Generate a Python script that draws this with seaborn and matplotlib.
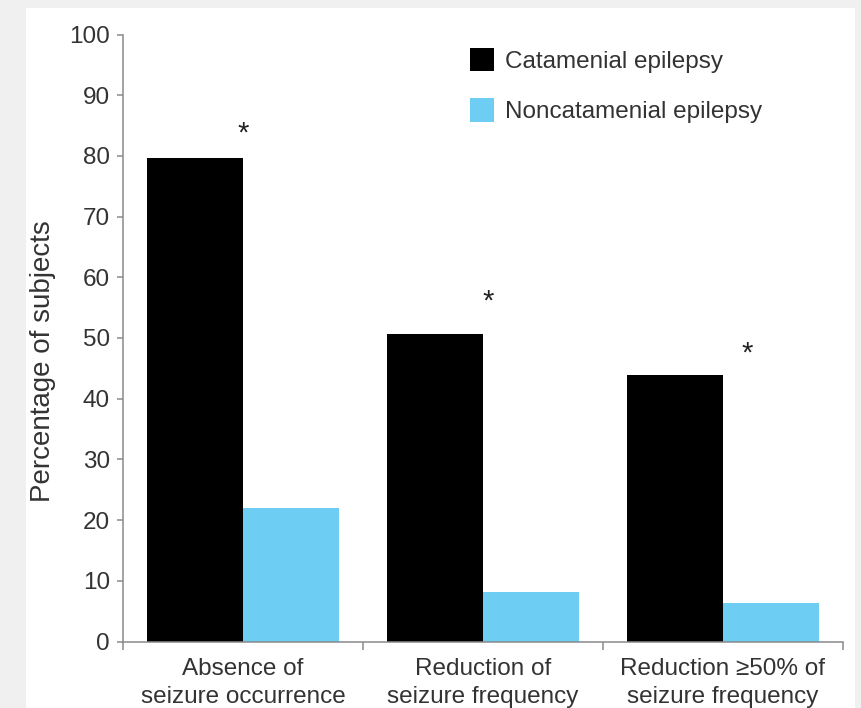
import matplotlib
matplotlib.use("Agg")
import matplotlib.pyplot as plt
from matplotlib.patches import Rectangle
import seaborn as sns
import pandas as pd

categories = ["Absence of\nseizure occurrence", "Reduction of\nseizure frequency",
              "Reduction \u226550% of\nseizure frequency"]
groups = ["Catamenial epilepsy", "Noncatamenial epilepsy"]
catamenial = [79.6, 50.7, 43.9]
noncatamenial = [22.0, 8.2, 6.3]
yticks = [0, 10, 20, 30, 40, 50, 60, 70, 80, 90, 100]
# significance markers (annotation): offset above the catamenial bar
star_dx = [0.0, 0.02, 0.10]
star_dy = [4.0, 5.3, 3.6]

df = pd.DataFrame({
    "category": categories * 2,
    "group": [groups[0]] * 3 + [groups[1]] * 3,
    "value": catamenial + noncatamenial,
})

sns.set_theme(style="white")
plt.rcParams["font.family"] = ["Liberation Sans", "DejaVu Sans"]

W, H = 861, 708
fig = plt.figure(figsize=(W / 100, H / 100), dpi=100, facecolor="#f0f0f0")
fig.patches.append(Rectangle((26 / W, 0), (855 - 26) / W, 1 - 8 / H,
                             transform=fig.transFigure, facecolor="white",
                             edgecolor="none", zorder=-10))
ax = fig.add_axes([123 / W, 1 - 641.5 / H, (843 - 123) / W, (641.5 - 34.5) / H])
ax.set_zorder(5)
ax.set_facecolor("none")

palette = {groups[0]: "#000000", groups[1]: "#6dcdf2"}
sns.barplot(data=df, x="category", y="value", hue="group", order=categories,
            hue_order=groups, palette=palette, width=0.8, gap=0,
            linewidth=0, saturation=1, ax=ax, legend=True)

ax.set_xlim(-0.5, 2.5)
ax.set_ylim(0, 100)
ax.set_yticks(yticks)
ax.set_xlabel("")
ax.set_ylabel("Percentage of subjects", fontsize=20, color="#333333")
ax.yaxis.set_label_coords(-0.093, 0.462)

spine_c = "#8a8a8a"
for s in ["top", "right"]:
    ax.spines[s].set_visible(False)
for s in ["left", "bottom"]:
    ax.spines[s].set_color(spine_c)
    ax.spines[s].set_linewidth(1.1)

ax.tick_params(axis="y", which="major", length=4.5, width=1.1, color=spine_c,
               labelsize=17.5, labelcolor="#333333", pad=5, left=True)
ax.tick_params(axis="x", which="major", length=0, labelsize=17.5,
               labelcolor="#333333", pad=12, bottom=True)
for lab in ax.get_xticklabels():
    lab.set_linespacing(1.35)
ax.set_xticks([-0.5, 0.5, 1.5, 2.5], minor=True)
ax.tick_params(axis="x", which="minor", length=5.5, width=1.1, color=spine_c,
               direction="out", bottom=True)

for i in range(3):
    ax.text(i + star_dx[i], catamenial[i] + star_dy[i], "*", ha="center",
            va="center", fontsize=21, color="#222222")

handles, labels = ax.get_legend_handles_labels()
ax.legend(handles, labels, loc="upper left",
          bbox_to_anchor=(470 / W, 1 - 48 / H), bbox_transform=fig.transFigure,
          frameon=False, fontsize=17.5, handlelength=1.0, handleheight=1.1,
          handletextpad=0.45, labelspacing=1.05, borderpad=0, borderaxespad=0,
          labelcolor="#333333")

fig.savefig("out.png", dpi=100, facecolor=fig.get_facecolor())
